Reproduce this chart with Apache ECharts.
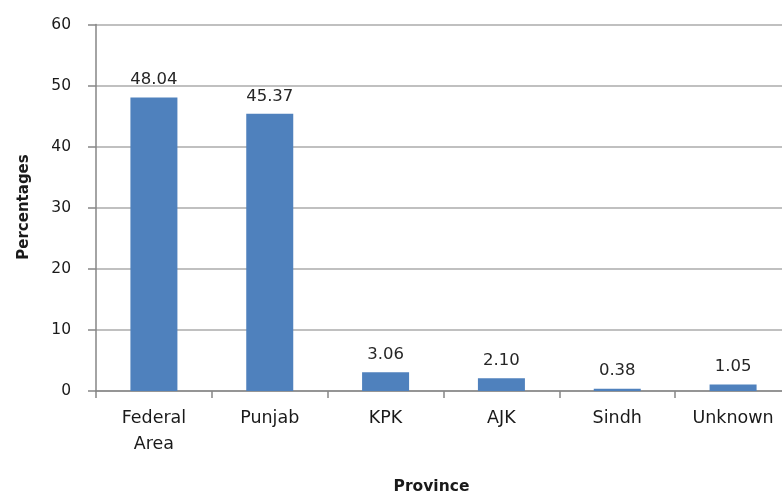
<!DOCTYPE html>
<html>
<head>
<meta charset="utf-8">
<script src="https://cdn.jsdelivr.net/npm/echarts@6/dist/echarts.min.js"></script>
<style>
  html, body { margin: 0; padding: 0; background: #ffffff; }
  #chart { width: 782px; height: 494px; }
</style>
</head>
<body>
<div id="chart"></div>
<script>
// Share of cases by province (%)
const provinces = ['Federal\nArea', 'Punjab', 'KPK', 'AJK', 'Sindh', 'Unknown'];
const percentages = [48.04, 45.37, 3.06, 2.10, 0.38, 1.05];
const yTicks = [0, 10, 20, 30, 40, 50, 60];

const FONT = 'DejaVu Sans';
const chart = echarts.init(document.getElementById('chart'), null, { renderer: 'canvas' });

chart.setOption({
  animation: false,
  backgroundColor: '#ffffff',
  // plot area runs slightly past the right edge of the canvas
  grid: {
    left: 96, width: 695, top: 24.5, height: 366.5,
    containLabel: false, outerBoundsMode: 'none'
  },
  xAxis: {
    type: 'category',
    data: provinces,
    boundaryGap: true,
    axisLine: { lineStyle: { color: '#868686', width: 1.5 } },
    axisTick: { show: true, length: 7, lineStyle: { color: '#868686', width: 1.5 } },
    axisLabel: {
      fontFamily: FONT, fontSize: 17.5, color: '#1a1a1a',
      lineHeight: 26, margin: 14, interval: 0
    }
  },
  yAxis: {
    type: 'value',
    min: yTicks[0],
    max: yTicks[yTicks.length - 1],
    interval: yTicks[1] - yTicks[0],
    axisLine: { show: true, lineStyle: { color: '#868686', width: 1.5 } },
    axisTick: { show: true, length: 8, lineStyle: { color: '#868686', width: 1.5 } },
    axisLabel: { fontFamily: FONT, fontSize: 15.5, color: '#1a1a1a', margin: 25 },
    splitLine: { show: true, lineStyle: { color: '#ababab', width: 1.5 } }
  },
  series: [{
    type: 'bar',
    data: percentages,
    barWidth: 47,
    itemStyle: { color: '#4f81bd' },
    label: {
      show: true,
      position: 'top',
      distance: 9,
      fontFamily: FONT,
      fontSize: 16.5,
      color: '#262626',
      formatter: p => p.value.toFixed(2)
    }
  }],
  graphic: [
    {
      type: 'text',
      x: 431.5,
      y: 487,
      style: {
        text: 'Province',
        font: 'bold 15.5px "DejaVu Sans"',
        fill: '#1a1a1a',
        align: 'center',
        verticalAlign: 'middle'
      }
    },
    {
      type: 'text',
      rotation: Math.PI / 2,
      x: 24,
      y: 207,
      style: {
        text: 'Percentages',
        font: 'bold 15px "DejaVu Sans"',
        fill: '#1a1a1a',
        align: 'center',
        verticalAlign: 'middle'
      }
    }
  ]
});
</script>
</body>
</html>
